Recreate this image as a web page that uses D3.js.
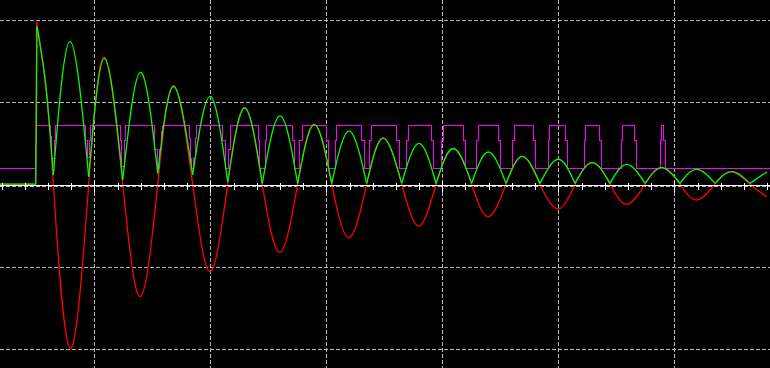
<!DOCTYPE html>
<html>
<head>
<meta charset="utf-8">
<script src="https://cdn.jsdelivr.net/npm/d3@7"></script>
<style>
  html, body { margin: 0; padding: 0; background: #000; }
  #scope { width: 770px; height: 368px; overflow: hidden; }
</style>
</head>
<body>
<div id="scope"></div>
<script>
// time in divisions, voltage in divisions
const gridT = [1, 2, 3, 4, 5, 6];
const gridV = [-2, -1, 1, 2];
const tickStep = 0.2;

// pre-trigger level and trigger instant
const preT = [0.187, 0.495];
const preV = [0, 0];

// red trace: first peak, then zero crossings and peaks alternately
const redT = [0.503, 0.581, 0.647, 0.791, 0.952, 1.088, 1.245, 1.397, 1.547, 1.684,
  1.848, 2.000, 2.150, 2.297, 2.448, 2.601, 2.753, 2.897, 3.047, 3.196, 3.348, 3.491,
  3.650, 3.799, 3.946, 4.095, 4.253, 4.397, 4.549, 4.690, 4.842, 5.000, 5.144, 5.293,
  5.446, 5.590, 5.748, 5.891, 6.049, 6.193, 6.351, 6.494, 6.653, 6.800];
const redV = [1.971, 1.220, 0, -1.994, 0, 1.540, 0, -1.367, 0, 1.197, 0, -1.063, 0, 0.930,
  0, -0.829, 0, 0.728, 0, -0.650, 0, 0.565, 0, -0.508, 0, 0.436, 0, -0.395, 0, 0.339,
  0, -0.301, 0, 0.266, 0, -0.244, 0, 0.200, 0, -0.192, 0, 0.152, 0, -0.155];

// green trace (rectified): peaks and valleys
const greenPeakT = [0.506, 0.791, 1.088, 1.397, 1.684, 2.000, 2.297, 2.601, 2.897, 3.196,
  3.491, 3.799, 4.095, 4.397, 4.690, 5.000, 5.293, 5.590, 5.891, 6.193, 6.494, 6.800];
const greenPeakV = [1.915, 1.736, 1.530, 1.360, 1.187, 1.068, 0.926, 0.829, 0.725, 0.646,
  0.561, 0.497, 0.434, 0.391, 0.337, 0.303, 0.263, 0.242, 0.201, 0.181, 0.152, 0.152];
const greenDropT = 0.581;
const greenDropV = 1.205;
const greenValleyT = [0.647, 0.952, 1.245, 1.547, 1.848, 2.150, 2.448, 2.753, 3.047, 3.348,
  3.650, 3.946, 4.253, 4.549, 4.842, 5.144, 5.446, 5.748, 6.049, 6.351, 6.653];
const greenValleyV = [0.112, 0.091, 0.051, 0.132, 0.112, 0.030, 0.010, 0.010, 0.010, 0.010,
  0.010, 0.010, 0.010, 0.010, 0.010, 0.010, 0.010, 0.010, 0.010, 0.010, 0.010];

// magenta trace: level changes (each value holds until the next time)
const magentaT = [0.187, 0.491, 0.506, 0.624, 0.635, 0.655, 0.667,
  0.920, 0.940, 0.957, 0.969,
  1.222, 1.236, 1.262, 1.273,
  1.523, 1.543, 1.560, 1.575, 1.590,
  1.819, 1.831, 1.840, 1.859, 1.874, 1.885,
  2.107, 2.127, 2.161, 2.176,
  2.414, 2.428, 2.472, 2.486,
  2.707, 2.730, 2.773, 2.791,
  3.003, 3.023, 3.075, 3.090,
  3.305, 3.325, 3.371, 3.391,
  3.607, 3.627, 3.693, 3.710,
  3.909, 3.928, 3.995, 4.009,
  4.181, 4.204, 4.297, 4.310,
  4.483, 4.503, 4.603, 4.621,
  4.784, 4.805, 4.914, 4.926,
  5.064, 5.081, 5.222, 5.236,
  5.357, 5.374, 5.541, 5.555,
  5.655, 5.672, 5.883, 5.891,
  5.907, 5.928, 6.825];
const magentaV = [0.194, 0.501, 0.716, 0.574, 0.318, 0.537, 0.716,
  0.537, 0.330, 0.537, 0.716,
  0.537, 0.213, 0.537, 0.716,
  0.416, 0.194, 0.416, 0.646, 0.716,
  0.561, 0.318, 0.194, 0.318, 0.561, 0.716,
  0.537, 0.194, 0.416, 0.716,
  0.537, 0.194, 0.537, 0.716,
  0.537, 0.194, 0.537, 0.716,
  0.537, 0.194, 0.537, 0.716,
  0.537, 0.194, 0.537, 0.716,
  0.537, 0.194, 0.537, 0.716,
  0.537, 0.194, 0.537, 0.716,
  0.537, 0.194, 0.537, 0.716,
  0.537, 0.194, 0.537, 0.716,
  0.537, 0.194, 0.537, 0.716,
  0.537, 0.194, 0.537, 0.716,
  0.537, 0.194, 0.537, 0.716,
  0.537, 0.194, 0.537, 0.716,
  0.537, 0.194, 0.194];

(function() {
    const width = 770
    const height = 368

    const svg = d3.select("#scope")
        .append("svg")
        .attr("width", width)
        .attr("height", height)
        .style("display", "block")
        .style("background", "#000")

    // scope screen is wider and taller than what is shown
    const x = d3.scaleLinear().domain([0, 7]).range([-21.7, 790.3])
    const y = d3.scaleLinear().domain([-2, 2]).range([348.8, 19.6])

    const gridColor = "#b8b8b8"
    const dash = "4,2"

    // grid
    const grid = svg.append("g")
        .attr("stroke", gridColor)
        .attr("stroke-width", 1)
        .attr("stroke-dasharray", dash)
        .attr("shape-rendering", "crispEdges")

    grid.selectAll("line.v")
        .data(gridT)
        .join("line")
        .attr("class", "v")
        .attr("x1", d => Math.round(x(d)) + 0.5)
        .attr("x2", d => Math.round(x(d)) + 0.5)
        .attr("y1", 0)
        .attr("y2", height)

    grid.selectAll("line.h")
        .data(gridV)
        .join("line")
        .attr("class", "h")
        .attr("x1", 0)
        .attr("x2", width)
        .attr("y1", d => Math.round(y(d)) + 0.5)
        .attr("y2", d => Math.round(y(d)) + 0.5)

    // dashed zero line sits just below the white axis
    grid.append("line")
        .attr("x1", 0)
        .attr("x2", width)
        .attr("y1", Math.round(y(0)) + 2.5)
        .attr("y2", Math.round(y(0)) + 2.5)

    const line = d3.line()
        .x(d => x(d[0]))
        .y(d => y(d[1]))

    // red trace
    const redPre = preT.map((t, i) => [t, preV[i]]).concat([[redT[0], redV[0]]])
    svg.append("path")
        .attr("d", line.curve(d3.curveLinear)(redPre))
        .attr("fill", "none")
        .attr("stroke", "#ff0000")
        .attr("stroke-width", 1.3)

    svg.append("path")
        .attr("d", line.curve(d3.curveNatural)(redT.map((t, i) => [t, redV[i]])))
        .attr("fill", "none")
        .attr("stroke", "#ff0000")
        .attr("stroke-width", 1.3)

    // magenta trace
    svg.append("path")
        .attr("d", line.curve(d3.curveStepAfter)(magentaT.map((t, i) => [t, magentaV[i]])))
        .attr("fill", "none")
        .attr("stroke", "#ff00ff")
        .attr("stroke-width", 1)
        .attr("shape-rendering", "crispEdges")

    // green trace: one lobe per half cycle
    const lobes = []
    lobes.push([[greenPeakT[0], greenPeakV[0]], [greenDropT, greenDropV], [greenValleyT[0], greenValleyV[0]]])
    for (let i = 1; i < greenPeakT.length; i++) {
        const lobe = [[greenValleyT[i - 1], greenValleyV[i - 1]], [greenPeakT[i], greenPeakV[i]]]
        if (i < greenValleyT.length) lobe.push([greenValleyT[i], greenValleyV[i]])
        lobes.push(lobe)
    }

    const greenPre = preT.map((t, i) => [t, preV[i]]).concat([[greenPeakT[0], greenPeakV[0]]])
    svg.append("path")
        .attr("d", line.curve(d3.curveLinear)(greenPre))
        .attr("fill", "none")
        .attr("stroke", "#00ff00")
        .attr("stroke-width", 1.3)

    svg.append("g")
        .selectAll("path")
        .data(lobes)
        .join("path")
        .attr("d", d => line.curve(d3.curveNatural)(d))
        .attr("fill", "none")
        .attr("stroke", "#00ff00")
        .attr("stroke-width", 1.3)

    // white time axis with ticks
    const axisY = Math.round(y(0)) + 1.5
    const axis = svg.append("g")
        .attr("stroke", "#ffffff")
        .attr("shape-rendering", "crispEdges")

    axis.append("line")
        .attr("x1", 0)
        .attr("x2", width)
        .attr("y1", axisY)
        .attr("y2", axisY)
        .attr("stroke-width", 1)

    const ticks = d3.range(1, 35).map(k => k * tickStep)
    axis.selectAll("line.tick")
        .data(ticks)
        .join("line")
        .attr("class", "tick")
        .attr("x1", d => Math.round(x(d)) + 0.5)
        .attr("x2", d => Math.round(x(d)) + 0.5)
        .attr("y1", d => axisY - (Math.abs(d - Math.round(d)) < 1e-6 ? 5 : 3))
        .attr("y2", d => axisY + (Math.abs(d - Math.round(d)) < 1e-6 ? 6 : 4))
        .attr("stroke-width", 1)
})();
</script>
</body>
</html>
